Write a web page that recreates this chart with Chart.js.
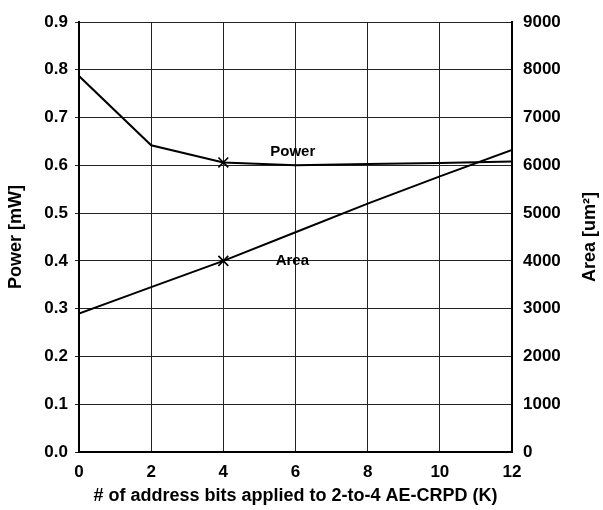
<!DOCTYPE html>
<html>
<head>
<meta charset="utf-8">
<script src="https://cdn.jsdelivr.net/npm/chart.js@4/dist/chart.umd.min.js"></script>
<style>
html,body{margin:0;padding:0;background:#fff;}
#c{display:block;}
</style>
</head>
<body>
<canvas id="c" width="603" height="510"></canvas>
<script>
const bits = [0, 2, 4, 6, 8, 10, 12];
const powerMW = [0.787, 0.642, 0.606, 0.600, 0.603, 0.605, 0.608];
const areaUm2 = [2900, 3450, 4000, 4600, 5200, 5770, 6320];
const markerBit = 4;
const xTicks = [0, 2, 4, 6, 8, 10, 12];
const labels = [
  {text: 'Power', x: 5.3, y: 0.628},
  {text: 'Area', x: 5.45, y: 0.40}
];
const rightTitle = 'Area [um²]';

const FONT = '"Liberation Sans", Arial, sans-serif';
const pr = bits.map(b => b === markerBit ? 7 : 0);

const textPlugin = {
  id: 'txt',
  afterDatasetsDraw(chart) {
    const ctx = chart.ctx, xs = chart.scales.x, ys = chart.scales.y;
    ctx.save();
    ctx.font = 'bold 15px ' + FONT;
    ctx.fillStyle = '#000';
    ctx.textAlign = 'left';
    ctx.textBaseline = 'middle';
    labels.forEach(l => ctx.fillText(l.text, xs.getPixelForValue(l.x), ys.getPixelForValue(l.y)));
    // right axis title, reading bottom to top
    const ca = chart.chartArea;
    ctx.translate(590, (ca.top + ca.bottom) / 2);
    ctx.rotate(-Math.PI / 2);
    ctx.textAlign = 'center';
    ctx.font = 'bold 18px ' + FONT;
    ctx.fillText(rightTitle, 0, 0);
    ctx.restore();
  }
};

new Chart(document.getElementById('c'), {
  type: 'line',
  data: {
    datasets: [
      {label: 'Power', data: bits.map((b, i) => ({x: b, y: powerMW[i]})), yAxisID: 'y',
       borderColor: '#000', borderWidth: 2, pointStyle: 'crossRot', pointRadius: pr,
       pointBorderColor: '#000', pointBorderWidth: 1.6, tension: 0},
      {label: 'Area', data: bits.map((b, i) => ({x: b, y: areaUm2[i]})), yAxisID: 'y1',
       borderColor: '#000', borderWidth: 2, pointStyle: 'crossRot', pointRadius: pr,
       pointBorderColor: '#000', pointBorderWidth: 1.6, tension: 0}
    ]
  },
  options: {
    responsive: false,
    animation: false,
    layout: {padding: {top: 22, left: 0, right: 0, bottom: 0}},
    plugins: {legend: {display: false}, tooltip: {enabled: false}},
    scales: {
      x: {
        type: 'linear', min: 0, max: 12,
        afterBuildTicks: s => { s.ticks = xTicks.map(v => ({value: v})); },
        afterFit: s => { s.height = 58; },
        grid: {color: '#222', lineWidth: 1, drawTicks: false},
        border: {color: '#000', width: 2},
        ticks: {color: '#000', padding: 10, font: {family: FONT, size: 17, weight: 'bold'}, maxRotation: 0},
        title: {display: true, text: '# of address bits applied to 2-to-4 AE-CRPD (K)', color: '#000',
                font: {family: FONT, size: 18, weight: 'bold'}, padding: {top: 0, bottom: 3}}
      },
      y: {
        position: 'left', min: 0, max: 0.9,
        afterFit: s => { s.width = 79; },
        grid: {color: '#222', lineWidth: 1, drawTicks: true, tickLength: 4},
        border: {color: '#000', width: 2},
        ticks: {stepSize: 0.1, color: '#000', padding: 7, font: {family: FONT, size: 17, weight: 'bold'},
                callback: v => Number(v).toFixed(1)},
        title: {display: true, text: 'Power [mW]', color: '#000',
                font: {family: FONT, size: 18, weight: 'bold'}, padding: {top: 5, bottom: 0}}
      },
      y1: {
        position: 'right', min: 0, max: 9000,
        afterFit: s => { s.width = 91; },
        grid: {drawOnChartArea: false, drawTicks: false},
        border: {color: '#000', width: 2},
        ticks: {stepSize: 1000, color: '#000', padding: 11, font: {family: FONT, size: 17, weight: 'bold'},
                callback: v => String(v)},
        title: {display: false}
      }
    }
  },
  plugins: [textPlugin]
});
</script>
</body>
</html>
